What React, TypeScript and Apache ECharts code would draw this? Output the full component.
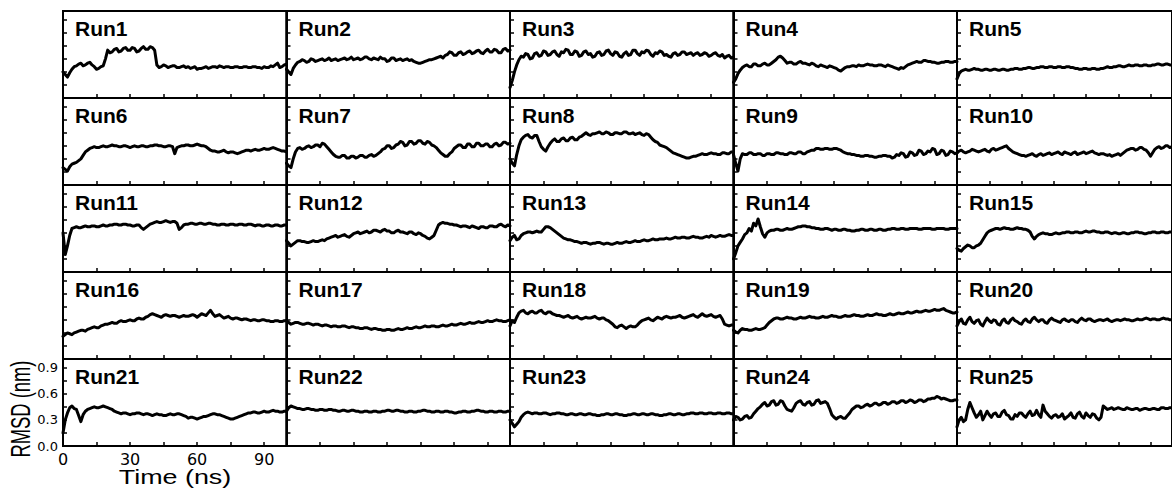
import React, { useEffect, useRef } from "react";
import * as echarts from "echarts";

// Simulation time (ns), one sample per nanosecond
const TIME_NS = [
  0, 1, 2, 3, 4, 5, 6, 7, 8, 9,
  10, 11, 12, 13, 14, 15, 16, 17, 18, 19,
  20, 21, 22, 23, 24, 25, 26, 27, 28, 29,
  30, 31, 32, 33, 34, 35, 36, 37, 38, 39,
  40, 41, 42, 43, 44, 45, 46, 47, 48, 49,
  50, 51, 52, 53, 54, 55, 56, 57, 58, 59,
  60, 61, 62, 63, 64, 65, 66, 67, 68, 69,
  70, 71, 72, 73, 74, 75, 76, 77, 78, 79,
  80, 81, 82, 83, 84, 85, 86, 87, 88, 89,
  90, 91, 92, 93, 94, 95, 96, 97, 98, 99,
  100,
];

// Backbone RMSD (nm) of each run
const RUN_1 = [
  0.30, 0.27, 0.24, 0.29, 0.33, 0.36, 0.37, 0.39, 0.40, 0.37,
  0.38, 0.40, 0.41, 0.38, 0.36, 0.33, 0.34, 0.36, 0.37, 0.45,
  0.55, 0.52, 0.53, 0.56, 0.57, 0.53, 0.54, 0.57, 0.58, 0.55,
  0.55, 0.58, 0.57, 0.53, 0.54, 0.57, 0.59, 0.56, 0.56, 0.59,
  0.58, 0.55, 0.38, 0.35, 0.36, 0.38, 0.37, 0.35, 0.36, 0.37,
  0.37, 0.35, 0.35, 0.36, 0.37, 0.35, 0.36, 0.34, 0.35, 0.36,
  0.33, 0.34, 0.34, 0.35, 0.36, 0.34, 0.35, 0.36, 0.36, 0.35,
  0.37, 0.36, 0.35, 0.36, 0.36, 0.35, 0.35, 0.36, 0.36, 0.35,
  0.35, 0.36, 0.36, 0.35, 0.35, 0.36, 0.36, 0.35, 0.35, 0.34,
  0.36, 0.35, 0.35, 0.37, 0.36, 0.38, 0.40, 0.35, 0.36, 0.38,
  0.39,
];
const RUN_2 = [
  0.33, 0.30, 0.27, 0.34, 0.38, 0.41, 0.42, 0.44, 0.43, 0.41,
  0.42, 0.45, 0.44, 0.42, 0.43, 0.44, 0.45, 0.43, 0.44, 0.46,
  0.43, 0.44, 0.45, 0.43, 0.44, 0.45, 0.46, 0.44, 0.45, 0.47,
  0.44, 0.45, 0.46, 0.44, 0.45, 0.47, 0.47, 0.45, 0.44, 0.46,
  0.45, 0.44, 0.47, 0.45, 0.45, 0.42, 0.43, 0.46, 0.46, 0.43,
  0.44, 0.45, 0.43, 0.44, 0.45, 0.43, 0.44, 0.42, 0.41, 0.40,
  0.40, 0.41, 0.42, 0.43, 0.44, 0.44, 0.45, 0.46, 0.47, 0.48,
  0.46, 0.49, 0.50, 0.53, 0.52, 0.49, 0.49, 0.52, 0.53, 0.50,
  0.51, 0.53, 0.54, 0.51, 0.52, 0.54, 0.55, 0.52, 0.51, 0.54,
  0.56, 0.53, 0.53, 0.56, 0.55, 0.52, 0.52, 0.56, 0.57, 0.54,
  0.55,
];
const RUN_3 = [
  0.12, 0.20, 0.30, 0.38, 0.44, 0.48, 0.47, 0.51, 0.50, 0.45,
  0.46, 0.51, 0.52, 0.48, 0.49, 0.54, 0.53, 0.49, 0.50, 0.53,
  0.54, 0.50, 0.48, 0.53, 0.52, 0.56, 0.55, 0.50, 0.50, 0.54,
  0.53, 0.48, 0.49, 0.53, 0.54, 0.50, 0.51, 0.47, 0.48, 0.52,
  0.53, 0.49, 0.50, 0.54, 0.55, 0.51, 0.49, 0.53, 0.52, 0.48,
  0.47, 0.51, 0.53, 0.49, 0.50, 0.55, 0.55, 0.51, 0.49, 0.53,
  0.52, 0.55, 0.54, 0.50, 0.48, 0.52, 0.51, 0.54, 0.53, 0.49,
  0.50, 0.48, 0.47, 0.51, 0.52, 0.49, 0.50, 0.53, 0.53, 0.50,
  0.51, 0.52, 0.49, 0.51, 0.52, 0.49, 0.50, 0.52, 0.51, 0.48,
  0.49, 0.51, 0.52, 0.49, 0.48, 0.50, 0.46, 0.48, 0.49, 0.46,
  0.47,
];
const RUN_4 = [
  0.18, 0.22, 0.28, 0.32, 0.35, 0.37, 0.38, 0.36, 0.36, 0.39,
  0.39, 0.37, 0.37, 0.39, 0.40, 0.38, 0.38, 0.40, 0.42, 0.44,
  0.47, 0.48, 0.46, 0.43, 0.40, 0.41, 0.41, 0.39, 0.39, 0.41,
  0.42, 0.40, 0.40, 0.39, 0.38, 0.40, 0.39, 0.37, 0.36, 0.38,
  0.37, 0.36, 0.35, 0.37, 0.36, 0.35, 0.34, 0.32, 0.31, 0.33,
  0.35, 0.36, 0.36, 0.37, 0.37, 0.36, 0.38, 0.37, 0.37, 0.38,
  0.39, 0.38, 0.38, 0.37, 0.37, 0.38, 0.38, 0.37, 0.36, 0.38,
  0.37, 0.36, 0.35, 0.34, 0.33, 0.35, 0.34, 0.36, 0.38, 0.39,
  0.40, 0.41, 0.42, 0.41, 0.41, 0.43, 0.43, 0.42, 0.42, 0.41,
  0.41, 0.40, 0.40, 0.41, 0.41, 0.42, 0.42, 0.41, 0.41, 0.42,
  0.42,
];
const RUN_5 = [
  0.22, 0.28, 0.31, 0.32, 0.33, 0.32, 0.32, 0.33, 0.34, 0.33,
  0.33, 0.32, 0.32, 0.33, 0.33, 0.32, 0.32, 0.33, 0.33, 0.32,
  0.32, 0.33, 0.33, 0.32, 0.32, 0.33, 0.33, 0.34, 0.34, 0.33,
  0.33, 0.34, 0.34, 0.35, 0.35, 0.34, 0.34, 0.35, 0.35, 0.36,
  0.36, 0.35, 0.35, 0.36, 0.36, 0.35, 0.35, 0.36, 0.36, 0.35,
  0.35, 0.36, 0.36, 0.35, 0.35, 0.34, 0.34, 0.33, 0.33, 0.34,
  0.34, 0.33, 0.33, 0.34, 0.34, 0.33, 0.33, 0.34, 0.34, 0.35,
  0.36, 0.35, 0.35, 0.36, 0.36, 0.37, 0.37, 0.36, 0.36, 0.37,
  0.38, 0.37, 0.37, 0.38, 0.38, 0.37, 0.37, 0.38, 0.38, 0.37,
  0.37, 0.38, 0.38, 0.39, 0.39, 0.38, 0.38, 0.39, 0.39, 0.38,
  0.38,
];
const RUN_6 = [
  0.20, 0.18, 0.16, 0.21, 0.24, 0.25, 0.26, 0.28, 0.30, 0.34,
  0.38, 0.40, 0.42, 0.43, 0.44, 0.43, 0.43, 0.44, 0.45, 0.44,
  0.44, 0.45, 0.46, 0.45, 0.45, 0.44, 0.44, 0.45, 0.45, 0.44,
  0.43, 0.44, 0.45, 0.44, 0.44, 0.45, 0.45, 0.44, 0.44, 0.45,
  0.45, 0.46, 0.46, 0.45, 0.45, 0.44, 0.44, 0.45, 0.45, 0.44,
  0.36, 0.43, 0.44, 0.45, 0.45, 0.46, 0.46, 0.45, 0.45, 0.46,
  0.47, 0.46, 0.45, 0.45, 0.44, 0.42, 0.40, 0.39, 0.39, 0.38,
  0.38, 0.39, 0.40, 0.38, 0.37, 0.38, 0.38, 0.37, 0.36, 0.37,
  0.38, 0.39, 0.40, 0.40, 0.39, 0.40, 0.41, 0.40, 0.40, 0.41,
  0.42, 0.41, 0.41, 0.42, 0.43, 0.42, 0.41, 0.40, 0.39, 0.39,
  0.38,
];
const RUN_7 = [
  0.25, 0.22, 0.20, 0.30, 0.38, 0.42, 0.43, 0.41, 0.42, 0.44,
  0.45, 0.43, 0.44, 0.46, 0.46, 0.44, 0.48, 0.47, 0.44, 0.41,
  0.38, 0.35, 0.33, 0.32, 0.32, 0.34, 0.34, 0.31, 0.31, 0.33,
  0.33, 0.31, 0.32, 0.34, 0.34, 0.32, 0.32, 0.34, 0.35, 0.33,
  0.34, 0.36, 0.38, 0.41, 0.42, 0.45, 0.45, 0.42, 0.43, 0.46,
  0.47, 0.50, 0.49, 0.45, 0.46, 0.50, 0.50, 0.47, 0.48, 0.51,
  0.51, 0.48, 0.47, 0.50, 0.49, 0.46, 0.45, 0.43, 0.40, 0.37,
  0.35, 0.33, 0.33, 0.36, 0.38, 0.42, 0.44, 0.46, 0.46, 0.43,
  0.43, 0.47, 0.47, 0.44, 0.44, 0.48, 0.48, 0.45, 0.45, 0.47,
  0.47, 0.44, 0.44, 0.47, 0.48, 0.45, 0.46, 0.49, 0.49, 0.47,
  0.48,
];
const RUN_8 = [
  0.30, 0.25, 0.22, 0.35, 0.45, 0.52, 0.55, 0.57, 0.58, 0.55,
  0.54, 0.57, 0.57, 0.50, 0.44, 0.41, 0.39, 0.44, 0.48, 0.51,
  0.53, 0.50, 0.50, 0.53, 0.54, 0.51, 0.51, 0.54, 0.55, 0.52,
  0.52, 0.55, 0.56, 0.58, 0.60, 0.58, 0.57, 0.59, 0.59, 0.60,
  0.61, 0.59, 0.59, 0.61, 0.60, 0.58, 0.58, 0.60, 0.60, 0.59,
  0.59, 0.61, 0.61, 0.59, 0.59, 0.60, 0.58, 0.59, 0.60, 0.58,
  0.57, 0.59, 0.58, 0.55, 0.52, 0.50, 0.49, 0.46, 0.45, 0.44,
  0.43, 0.41, 0.39, 0.37, 0.36, 0.35, 0.34, 0.33, 0.32, 0.31,
  0.31, 0.32, 0.33, 0.33, 0.34, 0.35, 0.36, 0.35, 0.35, 0.36,
  0.37, 0.36, 0.36, 0.35, 0.35, 0.37, 0.37, 0.36, 0.36, 0.38,
  0.38,
];
const RUN_9 = [
  0.35, 0.25, 0.16, 0.30, 0.36, 0.35, 0.35, 0.37, 0.37, 0.35,
  0.35, 0.36, 0.36, 0.34, 0.34, 0.36, 0.36, 0.35, 0.35, 0.37,
  0.37, 0.36, 0.36, 0.35, 0.35, 0.37, 0.37, 0.36, 0.36, 0.38,
  0.38, 0.36, 0.36, 0.38, 0.39, 0.40, 0.40, 0.42, 0.42, 0.41,
  0.41, 0.42, 0.42, 0.41, 0.41, 0.42, 0.42, 0.41, 0.40, 0.38,
  0.37, 0.36, 0.36, 0.35, 0.35, 0.34, 0.34, 0.33, 0.33, 0.34,
  0.34, 0.33, 0.33, 0.32, 0.32, 0.33, 0.33, 0.34, 0.34, 0.33,
  0.33, 0.31, 0.32, 0.35, 0.34, 0.37, 0.36, 0.32, 0.33, 0.38,
  0.37, 0.34, 0.35, 0.40, 0.39, 0.35, 0.36, 0.39, 0.38, 0.42,
  0.41, 0.35, 0.36, 0.40, 0.39, 0.34, 0.35, 0.39, 0.38, 0.36,
  0.37,
];
const RUN_10 = [
  0.37, 0.39, 0.40, 0.38, 0.37, 0.38, 0.39, 0.41, 0.40, 0.39,
  0.38, 0.39, 0.40, 0.41, 0.39, 0.38, 0.41, 0.42, 0.40, 0.41,
  0.42, 0.43, 0.44, 0.45, 0.42, 0.40, 0.38, 0.37, 0.36, 0.35,
  0.34, 0.34, 0.33, 0.34, 0.35, 0.36, 0.34, 0.33, 0.35, 0.36,
  0.34, 0.35, 0.36, 0.37, 0.35, 0.36, 0.37, 0.38, 0.36, 0.35,
  0.38, 0.37, 0.36, 0.35, 0.37, 0.38, 0.35, 0.36, 0.37, 0.38,
  0.36, 0.37, 0.38, 0.39, 0.37, 0.36, 0.35, 0.36, 0.36, 0.35,
  0.34, 0.35, 0.33, 0.34, 0.35, 0.36, 0.34, 0.36, 0.38, 0.40,
  0.41, 0.42, 0.42, 0.40, 0.41, 0.43, 0.43, 0.41, 0.40, 0.37,
  0.33, 0.37, 0.41, 0.43, 0.44, 0.42, 0.43, 0.45, 0.45, 0.43,
  0.44,
];
const RUN_11 = [
  0.45, 0.20, 0.30, 0.42, 0.50, 0.51, 0.52, 0.51, 0.51, 0.52,
  0.53, 0.52, 0.52, 0.53, 0.53, 0.52, 0.52, 0.53, 0.54, 0.53,
  0.53, 0.54, 0.54, 0.55, 0.55, 0.54, 0.54, 0.55, 0.55, 0.54,
  0.54, 0.53, 0.53, 0.54, 0.54, 0.51, 0.49, 0.51, 0.53, 0.55,
  0.56, 0.57, 0.58, 0.57, 0.57, 0.58, 0.59, 0.58, 0.57, 0.58,
  0.58, 0.56, 0.49, 0.51, 0.54, 0.55, 0.55, 0.56, 0.56, 0.55,
  0.55, 0.56, 0.56, 0.55, 0.55, 0.56, 0.56, 0.55, 0.55, 0.54,
  0.54, 0.55, 0.55, 0.54, 0.54, 0.55, 0.55, 0.54, 0.54, 0.55,
  0.55, 0.54, 0.54, 0.55, 0.55, 0.54, 0.53, 0.54, 0.54, 0.53,
  0.53, 0.54, 0.54, 0.53, 0.53, 0.54, 0.54, 0.53, 0.53, 0.54,
  0.54,
];
const RUN_12 = [
  0.36, 0.33, 0.30, 0.32, 0.34, 0.36, 0.36, 0.35, 0.35, 0.34,
  0.34, 0.35, 0.36, 0.35, 0.35, 0.36, 0.37, 0.36, 0.38, 0.39,
  0.40, 0.41, 0.42, 0.40, 0.41, 0.42, 0.43, 0.41, 0.40, 0.42,
  0.44, 0.45, 0.46, 0.44, 0.45, 0.46, 0.47, 0.45, 0.46, 0.48,
  0.48, 0.47, 0.46, 0.48, 0.49, 0.47, 0.47, 0.45, 0.45, 0.47,
  0.48, 0.46, 0.46, 0.45, 0.44, 0.46, 0.46, 0.44, 0.43, 0.45,
  0.44, 0.42, 0.41, 0.39, 0.38, 0.40, 0.42, 0.48, 0.54, 0.56,
  0.57, 0.56, 0.56, 0.55, 0.55, 0.54, 0.54, 0.53, 0.52, 0.53,
  0.53, 0.52, 0.51, 0.53, 0.52, 0.51, 0.50, 0.52, 0.52, 0.51,
  0.51, 0.53, 0.53, 0.52, 0.52, 0.54, 0.55, 0.53, 0.52, 0.54,
  0.53,
];
const RUN_13 = [
  0.36, 0.40, 0.42, 0.37, 0.38, 0.42, 0.44, 0.45, 0.46, 0.46,
  0.45, 0.46, 0.47, 0.46, 0.46, 0.49, 0.52, 0.52, 0.51, 0.49,
  0.47, 0.45, 0.43, 0.41, 0.39, 0.38, 0.37, 0.37, 0.36, 0.35,
  0.35, 0.34, 0.33, 0.34, 0.34, 0.33, 0.32, 0.33, 0.33, 0.34,
  0.34, 0.33, 0.32, 0.33, 0.33, 0.32, 0.32, 0.33, 0.34, 0.33,
  0.33, 0.34, 0.35, 0.34, 0.34, 0.35, 0.36, 0.35, 0.35, 0.36,
  0.37, 0.36, 0.36, 0.37, 0.38, 0.37, 0.37, 0.38, 0.38, 0.38,
  0.39, 0.38, 0.38, 0.39, 0.40, 0.39, 0.39, 0.40, 0.40, 0.39,
  0.39, 0.40, 0.41, 0.40, 0.40, 0.39, 0.39, 0.40, 0.41, 0.40,
  0.42, 0.41, 0.40, 0.41, 0.42, 0.41, 0.41, 0.42, 0.43, 0.42,
  0.42,
];
const RUN_14 = [
  0.15, 0.22, 0.30, 0.34, 0.38, 0.43, 0.45, 0.50, 0.47, 0.56,
  0.53, 0.61, 0.52, 0.44, 0.40, 0.45, 0.47, 0.48, 0.48, 0.49,
  0.49, 0.48, 0.48, 0.49, 0.50, 0.49, 0.49, 0.50, 0.51, 0.52,
  0.52, 0.53, 0.53, 0.52, 0.52, 0.51, 0.51, 0.50, 0.50, 0.49,
  0.49, 0.50, 0.50, 0.49, 0.48, 0.49, 0.49, 0.48, 0.48, 0.49,
  0.49, 0.48, 0.48, 0.47, 0.47, 0.48, 0.48, 0.49, 0.49, 0.48,
  0.48, 0.49, 0.49, 0.48, 0.48, 0.49, 0.49, 0.48, 0.48, 0.49,
  0.49, 0.50, 0.50, 0.49, 0.49, 0.50, 0.50, 0.49, 0.49, 0.50,
  0.50, 0.50, 0.50, 0.49, 0.49, 0.50, 0.50, 0.50, 0.50, 0.49,
  0.49, 0.50, 0.50, 0.50, 0.50, 0.49, 0.49, 0.50, 0.50, 0.50,
  0.50,
];
const RUN_15 = [
  0.27, 0.25, 0.24, 0.27, 0.29, 0.31, 0.30, 0.28, 0.28, 0.30,
  0.31, 0.33, 0.37, 0.41, 0.45, 0.47, 0.48, 0.49, 0.50, 0.50,
  0.49, 0.50, 0.51, 0.50, 0.50, 0.49, 0.49, 0.50, 0.51, 0.50,
  0.50, 0.49, 0.49, 0.48, 0.46, 0.41, 0.38, 0.41, 0.43, 0.44,
  0.45, 0.44, 0.44, 0.43, 0.43, 0.44, 0.45, 0.44, 0.44, 0.45,
  0.45, 0.46, 0.46, 0.45, 0.45, 0.46, 0.46, 0.45, 0.45, 0.46,
  0.47, 0.46, 0.46, 0.47, 0.47, 0.46, 0.46, 0.45, 0.45, 0.46,
  0.46, 0.45, 0.44, 0.45, 0.45, 0.44, 0.44, 0.45, 0.45, 0.44,
  0.44, 0.45, 0.45, 0.46, 0.46, 0.45, 0.45, 0.44, 0.44, 0.45,
  0.45, 0.46, 0.46, 0.45, 0.45, 0.46, 0.46, 0.45, 0.45, 0.46,
  0.46,
];
const RUN_16 = [
  0.26, 0.28, 0.30, 0.29, 0.28, 0.30, 0.31, 0.32, 0.33, 0.33,
  0.32, 0.34, 0.35, 0.36, 0.37, 0.36, 0.36, 0.38, 0.39, 0.40,
  0.40, 0.41, 0.42, 0.41, 0.41, 0.43, 0.44, 0.43, 0.43, 0.44,
  0.45, 0.44, 0.44, 0.46, 0.47, 0.46, 0.46, 0.48, 0.49, 0.51,
  0.52, 0.51, 0.50, 0.49, 0.48, 0.50, 0.51, 0.50, 0.49, 0.50,
  0.50, 0.49, 0.48, 0.49, 0.50, 0.49, 0.49, 0.50, 0.51, 0.50,
  0.48, 0.50, 0.52, 0.51, 0.50, 0.53, 0.56, 0.52, 0.49, 0.50,
  0.51, 0.49, 0.47, 0.48, 0.49, 0.47, 0.46, 0.47, 0.47, 0.46,
  0.45, 0.46, 0.46, 0.45, 0.44, 0.45, 0.45, 0.44, 0.44, 0.45,
  0.45, 0.44, 0.44, 0.43, 0.43, 0.44, 0.44, 0.43, 0.43, 0.44,
  0.44,
];
const RUN_17 = [
  0.44, 0.42, 0.40, 0.41, 0.42, 0.42, 0.41, 0.40, 0.40, 0.41,
  0.41, 0.40, 0.39, 0.40, 0.40, 0.39, 0.38, 0.39, 0.39, 0.38,
  0.37, 0.38, 0.38, 0.37, 0.37, 0.38, 0.38, 0.37, 0.36, 0.37,
  0.37, 0.36, 0.36, 0.35, 0.35, 0.36, 0.36, 0.35, 0.34, 0.35,
  0.35, 0.34, 0.34, 0.33, 0.33, 0.34, 0.34, 0.33, 0.33, 0.34,
  0.35, 0.34, 0.34, 0.35, 0.36, 0.35, 0.35, 0.36, 0.37, 0.36,
  0.36, 0.37, 0.38, 0.37, 0.37, 0.38, 0.38, 0.37, 0.37, 0.38,
  0.39, 0.38, 0.38, 0.39, 0.40, 0.39, 0.39, 0.40, 0.41, 0.40,
  0.40, 0.41, 0.42, 0.41, 0.41, 0.42, 0.43, 0.42, 0.42, 0.43,
  0.44, 0.43, 0.43, 0.44, 0.45, 0.44, 0.44, 0.43, 0.43, 0.44,
  0.45,
];
const RUN_18 = [
  0.38, 0.44, 0.42, 0.48, 0.53, 0.55, 0.56, 0.53, 0.52, 0.54,
  0.55, 0.53, 0.53, 0.55, 0.56, 0.53, 0.52, 0.54, 0.54, 0.52,
  0.51, 0.50, 0.50, 0.49, 0.48, 0.49, 0.50, 0.48, 0.47, 0.48,
  0.49, 0.47, 0.46, 0.47, 0.48, 0.47, 0.47, 0.48, 0.49, 0.47,
  0.46, 0.47, 0.47, 0.45, 0.44, 0.42, 0.40, 0.37, 0.36, 0.38,
  0.39, 0.37, 0.35, 0.37, 0.38, 0.37, 0.37, 0.39, 0.42, 0.44,
  0.45, 0.46, 0.47, 0.45, 0.44, 0.46, 0.48, 0.47, 0.46, 0.48,
  0.49, 0.48, 0.47, 0.48, 0.48, 0.49, 0.50, 0.48, 0.47, 0.48,
  0.49, 0.50, 0.51, 0.49, 0.48, 0.50, 0.52, 0.50, 0.49, 0.50,
  0.51, 0.49, 0.48, 0.49, 0.50, 0.46, 0.40, 0.39, 0.38, 0.39,
  0.39,
];
const RUN_19 = [
  0.33, 0.31, 0.30, 0.33, 0.35, 0.34, 0.34, 0.33, 0.33, 0.34,
  0.35, 0.34, 0.34, 0.35, 0.36, 0.39, 0.42, 0.44, 0.46, 0.47,
  0.47, 0.46, 0.46, 0.47, 0.48, 0.47, 0.47, 0.46, 0.46, 0.47,
  0.48, 0.47, 0.47, 0.48, 0.49, 0.48, 0.48, 0.47, 0.47, 0.48,
  0.49, 0.48, 0.48, 0.49, 0.50, 0.49, 0.49, 0.48, 0.48, 0.49,
  0.50, 0.49, 0.49, 0.50, 0.51, 0.50, 0.50, 0.49, 0.49, 0.50,
  0.51, 0.50, 0.50, 0.51, 0.52, 0.51, 0.51, 0.50, 0.50, 0.51,
  0.52, 0.51, 0.51, 0.52, 0.53, 0.52, 0.52, 0.53, 0.54, 0.53,
  0.53, 0.54, 0.55, 0.54, 0.54, 0.55, 0.56, 0.55, 0.55, 0.56,
  0.57, 0.56, 0.56, 0.57, 0.58, 0.56, 0.55, 0.54, 0.53, 0.53,
  0.54,
];
const RUN_20 = [
  0.38, 0.43, 0.46, 0.41, 0.40, 0.45, 0.48, 0.43, 0.41, 0.44,
  0.45, 0.40, 0.38, 0.43, 0.47, 0.44, 0.42, 0.45, 0.44, 0.40,
  0.39, 0.44, 0.46, 0.42, 0.41, 0.45, 0.47, 0.44, 0.43, 0.41,
  0.40, 0.44, 0.46, 0.43, 0.42, 0.46, 0.48, 0.45, 0.43, 0.45,
  0.45, 0.42, 0.41, 0.45, 0.47, 0.45, 0.44, 0.43, 0.42, 0.45,
  0.46, 0.44, 0.43, 0.45, 0.45, 0.43, 0.42, 0.45, 0.47, 0.45,
  0.44, 0.46, 0.46, 0.44, 0.43, 0.44, 0.45, 0.45, 0.44, 0.45,
  0.46, 0.44, 0.43, 0.44, 0.45, 0.45, 0.44, 0.45, 0.46, 0.45,
  0.45, 0.44, 0.44, 0.45, 0.46, 0.45, 0.45, 0.46, 0.47, 0.46,
  0.45, 0.46, 0.46, 0.45, 0.45, 0.46, 0.47, 0.46, 0.46, 0.45,
  0.45,
];
const RUN_21 = [
  0.15, 0.30, 0.38, 0.44, 0.46, 0.43, 0.42, 0.35, 0.28, 0.36,
  0.40, 0.42, 0.43, 0.44, 0.45, 0.44, 0.44, 0.45, 0.46, 0.45,
  0.44, 0.43, 0.42, 0.40, 0.39, 0.38, 0.37, 0.38, 0.38, 0.37,
  0.36, 0.37, 0.37, 0.38, 0.38, 0.37, 0.36, 0.37, 0.37, 0.36,
  0.35, 0.36, 0.37, 0.36, 0.36, 0.35, 0.35, 0.36, 0.37, 0.36,
  0.36, 0.37, 0.37, 0.36, 0.35, 0.34, 0.32, 0.33, 0.33, 0.32,
  0.31, 0.32, 0.33, 0.34, 0.34, 0.35, 0.36, 0.37, 0.37, 0.36,
  0.36, 0.35, 0.34, 0.33, 0.32, 0.31, 0.31, 0.32, 0.33, 0.34,
  0.35, 0.36, 0.37, 0.38, 0.38, 0.39, 0.39, 0.38, 0.38, 0.39,
  0.40, 0.39, 0.39, 0.40, 0.41, 0.40, 0.40, 0.39, 0.39, 0.40,
  0.40,
];
const RUN_22 = [
  0.40, 0.44, 0.46, 0.45, 0.44, 0.43, 0.43, 0.42, 0.42, 0.43,
  0.43, 0.42, 0.42, 0.41, 0.41, 0.42, 0.42, 0.41, 0.41, 0.42,
  0.42, 0.41, 0.41, 0.40, 0.40, 0.41, 0.41, 0.40, 0.40, 0.41,
  0.41, 0.40, 0.40, 0.39, 0.39, 0.40, 0.40, 0.39, 0.39, 0.40,
  0.40, 0.39, 0.39, 0.40, 0.40, 0.41, 0.41, 0.40, 0.40, 0.41,
  0.41, 0.40, 0.40, 0.39, 0.39, 0.40, 0.40, 0.39, 0.39, 0.40,
  0.40, 0.41, 0.41, 0.40, 0.40, 0.39, 0.39, 0.40, 0.40, 0.39,
  0.39, 0.40, 0.40, 0.39, 0.39, 0.38, 0.38, 0.39, 0.39, 0.40,
  0.40, 0.39, 0.39, 0.40, 0.40, 0.41, 0.41, 0.40, 0.40, 0.39,
  0.39, 0.40, 0.40, 0.39, 0.39, 0.40, 0.40, 0.39, 0.39, 0.40,
  0.40,
];
const RUN_23 = [
  0.30, 0.26, 0.22, 0.25, 0.28, 0.33, 0.36, 0.38, 0.39, 0.38,
  0.37, 0.38, 0.38, 0.37, 0.37, 0.38, 0.38, 0.37, 0.36, 0.37,
  0.37, 0.38, 0.38, 0.37, 0.37, 0.36, 0.36, 0.37, 0.37, 0.36,
  0.36, 0.37, 0.37, 0.36, 0.36, 0.37, 0.37, 0.36, 0.36, 0.35,
  0.35, 0.36, 0.36, 0.37, 0.37, 0.36, 0.36, 0.37, 0.37, 0.36,
  0.36, 0.35, 0.35, 0.36, 0.36, 0.37, 0.37, 0.36, 0.36, 0.37,
  0.37, 0.36, 0.36, 0.37, 0.37, 0.36, 0.36, 0.35, 0.35, 0.36,
  0.36, 0.37, 0.37, 0.36, 0.36, 0.37, 0.37, 0.36, 0.36, 0.37,
  0.37, 0.38, 0.38, 0.37, 0.37, 0.38, 0.38, 0.37, 0.37, 0.38,
  0.38, 0.37, 0.37, 0.38, 0.38, 0.37, 0.37, 0.38, 0.38, 0.37,
  0.37,
];
const RUN_24 = [
  0.30, 0.34, 0.33, 0.30, 0.31, 0.34, 0.35, 0.32, 0.33, 0.37,
  0.40, 0.43, 0.45, 0.48, 0.50, 0.46, 0.47, 0.51, 0.52, 0.47,
  0.48, 0.52, 0.51, 0.46, 0.42, 0.41, 0.40, 0.44, 0.49, 0.51,
  0.52, 0.48, 0.47, 0.50, 0.51, 0.47, 0.48, 0.52, 0.53, 0.49,
  0.50, 0.51, 0.49, 0.43, 0.36, 0.33, 0.31, 0.33, 0.34, 0.32,
  0.32, 0.35, 0.38, 0.42, 0.44, 0.46, 0.46, 0.44, 0.45, 0.47,
  0.48, 0.46, 0.47, 0.49, 0.49, 0.47, 0.48, 0.50, 0.50, 0.48,
  0.49, 0.51, 0.51, 0.49, 0.50, 0.52, 0.52, 0.50, 0.51, 0.53,
  0.52, 0.50, 0.51, 0.53, 0.53, 0.51, 0.52, 0.54, 0.54, 0.55,
  0.55, 0.57, 0.56, 0.54, 0.55, 0.54, 0.53, 0.52, 0.52, 0.53,
  0.53,
];
const RUN_25 = [
  0.22, 0.30, 0.33, 0.28, 0.30, 0.42, 0.50, 0.44, 0.38, 0.33,
  0.36, 0.40, 0.30, 0.35, 0.40, 0.36, 0.33, 0.37, 0.38, 0.34,
  0.34, 0.39, 0.41, 0.36, 0.35, 0.31, 0.31, 0.36, 0.34, 0.38,
  0.38, 0.35, 0.33, 0.37, 0.40, 0.35, 0.36, 0.41, 0.36, 0.33,
  0.47, 0.40, 0.37, 0.34, 0.32, 0.35, 0.36, 0.33, 0.34, 0.37,
  0.31, 0.33, 0.35, 0.38, 0.33, 0.32, 0.37, 0.39, 0.34, 0.32,
  0.38, 0.35, 0.33, 0.37, 0.36, 0.32, 0.30, 0.33, 0.46, 0.44,
  0.42, 0.43, 0.44, 0.42, 0.43, 0.44, 0.43, 0.42, 0.42, 0.44,
  0.43, 0.42, 0.42, 0.43, 0.43, 0.41, 0.42, 0.43, 0.43, 0.42,
  0.42, 0.43, 0.43, 0.42, 0.42, 0.44, 0.44, 0.43, 0.43, 0.44,
  0.44,
];

const RUNS = [
  RUN_1, RUN_2, RUN_3, RUN_4, RUN_5,
  RUN_6, RUN_7, RUN_8, RUN_9, RUN_10,
  RUN_11, RUN_12, RUN_13, RUN_14, RUN_15,
  RUN_16, RUN_17, RUN_18, RUN_19, RUN_20,
  RUN_21, RUN_22, RUN_23, RUN_24, RUN_25,
];
const RUN_NAMES = [
  "Run1", "Run2", "Run3", "Run4", "Run5",
  "Run6", "Run7", "Run8", "Run9", "Run10",
  "Run11", "Run12", "Run13", "Run14", "Run15",
  "Run16", "Run17", "Run18", "Run19", "Run20",
  "Run21", "Run22", "Run23", "Run24", "Run25",
];

// Only the lower-left panel carries tick labels
const X_TICK_LABELS = ["0", "30", "60", "90"];
const Y_TICK_LABELS = ["0.0", "0.3", "0.6", "0.9"];

// Panel layout (px)
const COLS = 5;
const PANEL_LEFT = 63;
const PANEL_TOP = 11;
const PANEL_W = 223.5;
const PANEL_H = 87;
const LABELED_PANEL = 20;

const SANS = "'Liberation Sans', Arial, sans-serif";
const TICK_FONT = "'DejaVu Sans', sans-serif";

function buildOption() {
  const grid: any[] = [];
  const xAxis: any[] = [];
  const yAxis: any[] = [];
  const series: any[] = [];
  const graphic: any[] = [];

  RUNS.forEach((values, i) => {
    const row = Math.floor(i / COLS);
    const col = i % COLS;
    const left = PANEL_LEFT + col * PANEL_W;
    const top = PANEL_TOP + row * PANEL_H;
    const labeled = i === LABELED_PANEL;

    grid.push({
      left,
      top,
      width: PANEL_W,
      height: PANEL_H,
      show: true,
      borderColor: "#000",
      borderWidth: 2,
      backgroundColor: "transparent",
      containLabel: false,
    });

    xAxis.push({
      gridIndex: i,
      type: "value",
      min: 0,
      max: 100,
      interval: 15,
      axisLine: { show: true, onZero: false, lineStyle: { color: "#000", width: 2 } },
      axisTick: { show: true, inside: true, length: 4, lineStyle: { color: "#000", width: 1.5 } },
      splitLine: { show: false },
      axisLabel: {
        show: labeled,
        margin: 5,
        color: "#000",
        fontFamily: TICK_FONT,
        fontSize: 16,
        formatter: (v: number) => {
          const s = String(Math.round(v));
          return X_TICK_LABELS.includes(s) && Math.abs(v - Math.round(v)) < 1e-6 ? s : "";
        },
      },
    });

    yAxis.push({
      gridIndex: i,
      type: "value",
      min: 0,
      max: 1,
      interval: 0.15,
      axisLine: { show: true, onZero: false, lineStyle: { color: "#000", width: 2 } },
      axisTick: { show: true, inside: true, length: 4, lineStyle: { color: "#000", width: 1.5 } },
      splitLine: { show: false },
      axisLabel: {
        show: labeled,
        margin: 5,
        color: "#000",
        fontFamily: TICK_FONT,
        fontSize: 13,
        formatter: (v: number) => {
          const s = v.toFixed(1);
          return Y_TICK_LABELS.includes(s) && Math.abs(v - parseFloat(s)) < 1e-6 ? s : "";
        },
      },
    });

    series.push({
      type: "line",
      name: RUN_NAMES[i],
      xAxisIndex: i,
      yAxisIndex: i,
      data: values.map((v, k) => [TIME_NS[k], v]),
      showSymbol: false,
      symbol: "none",
      clip: true,
      silent: true,
      lineStyle: { color: "#000", width: 3, join: "round", cap: "round" },
    });

    graphic.push({
      type: "text",
      x: left + 12,
      y: top + 17,
      silent: true,
      style: {
        text: RUN_NAMES[i],
        fill: "#000",
        font: `bold 21px ${SANS}`,
        align: "left",
        verticalAlign: "middle",
        textAlign: "left",
        textVerticalAlign: "middle",
      },
    });
  });

  // Axis titles of the labelled panel
  graphic.push({
    type: "text",
    x: 21,
    y: 409,
    rotation: Math.PI / 2,
    scaleX: 0.68,
    silent: true,
    style: {
      text: "RMSD (nm)",
      fill: "#000",
      font: `27px ${SANS}`,
      align: "center",
      verticalAlign: "middle",
      textAlign: "center",
      textVerticalAlign: "middle",
    },
  });
  graphic.push({
    type: "text",
    x: 175,
    y: 477,
    scaleX: 1.38,
    silent: true,
    style: {
      text: "Time (ns)",
      fill: "#000",
      font: `19.5px ${SANS}`,
      align: "center",
      verticalAlign: "middle",
      textAlign: "center",
      textVerticalAlign: "middle",
    },
  });

  return {
    animation: false,
    backgroundColor: "#fff",
    grid,
    xAxis,
    yAxis,
    series,
    graphic,
  };
}

export default function App() {
  const ref = useRef<HTMLDivElement>(null);

  useEffect(() => {
    if (!ref.current) return;
    const chart = echarts.init(ref.current, undefined, { renderer: "svg" });
    chart.setOption(buildOption());
    return () => chart.dispose();
  }, []);

  return (
    <div
      ref={ref}
      style={{ position: "absolute", left: 0, top: 0, width: 1172, height: 490 }}
    />
  );
}
